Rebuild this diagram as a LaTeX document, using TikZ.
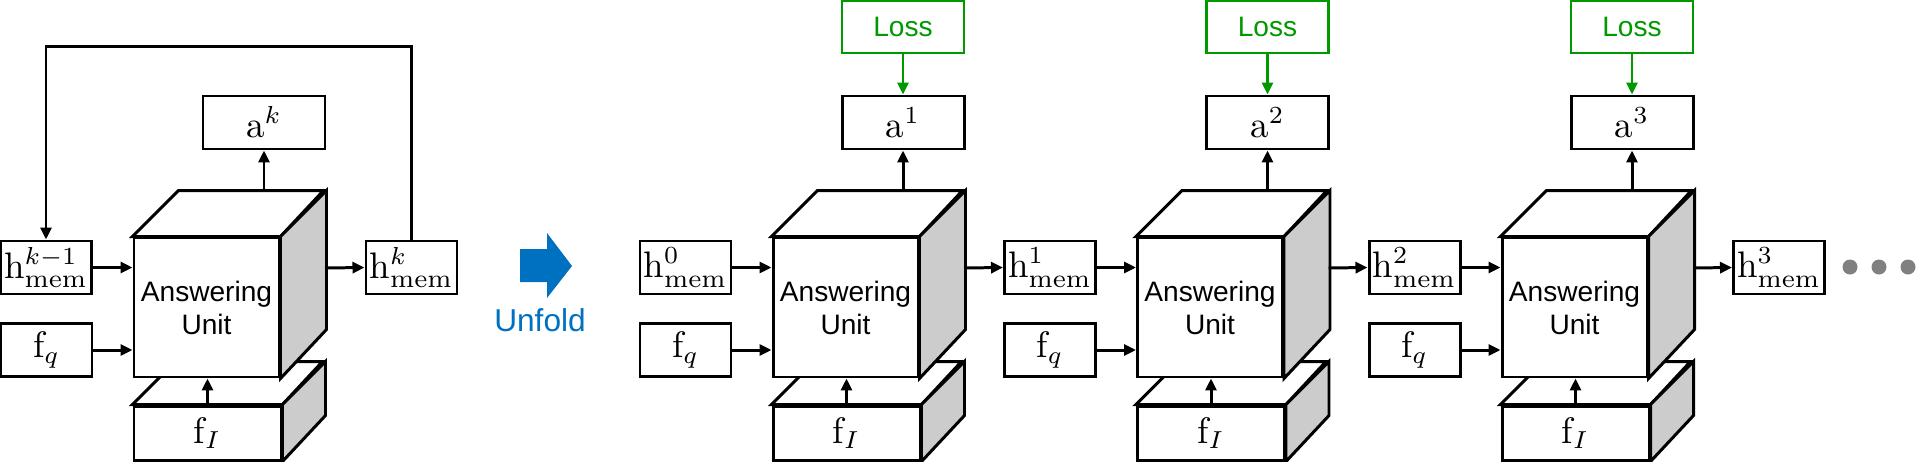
\documentclass[tikz,border=0pt]{standalone}
\usepackage{fontspec}
\setsansfont{Liberation Sans}
\usetikzlibrary{arrows.meta}

\definecolor{lossgreen}{RGB}{0,153,0}
\definecolor{unfoldblue}{RGB}{0,112,192}
\definecolor{sidegray}{RGB}{204,204,204}
\definecolor{dotgray}{RGB}{128,128,128}

\tikzset{
  facebox/.style={draw,line width=0.85pt,fill=white,inner sep=0pt},
  membox/.style={facebox,minimum width=9.1mm,minimum height=5.3mm,font=\fontsize{10.5}{12}\selectfont},
  lossbox/.style={draw=lossgreen,line width=0.8pt,text=lossgreen,minimum width=12.2mm,minimum height=5.2mm,inner sep=0pt,font=\sffamily\fontsize{8}{9.6}\selectfont},
  flow/.style={line width=0.85pt,->},
  lossflow/.style={line width=0.8pt,->,lossgreen},
  dot/.style={circle,fill=dotgray,minimum size=1.5mm,inner sep=0pt}
}

\begin{document}
\begin{tikzpicture}[x=0.1mm,y=-0.1mm,>={Triangle[length=1.2mm,width=1.1mm]}]
  \useasboundingbox (0,0) rectangle (1917,461);
  % memory states
  \node[membox] (mem-k0) at (46,267.5) {$\mathrm{h}^{k-1}_{\mathrm{mem}}$};
  \node[membox] (mem-k1) at (411.5,267.5) {$\mathrm{h}^{k}_{\mathrm{mem}}$};
  \foreach \n/\xpos in {0/685.5,1/1050,2/1414.5,3/1779}
    \node[membox] (mem-\n) at (\xpos,267.5) {$\mathrm{h}^{\n}_{\mathrm{mem}}$};

  \foreach \n/\X/\idx/\memin/\memout in {%
      0/134/k/mem-k0/mem-k1,
      1/773/1/mem-0/mem-1,
      2/1137.5/2/mem-1/mem-2,
      3/1502/3/mem-2/mem-3%
  }{%
    % image feature slab
    \node[facebox,minimum width=14.7mm,minimum height=5.4mm,font=\fontsize{10.5}{12}\selectfont] (slab-\n) at (\X+73.5,433) {$\mathrm{f}_I$};
    \draw[facebox] (slab-\n.north west) -- ++(43,-43) -- ++(147,0) -- (slab-\n.north east) -- cycle;
    \draw[facebox,fill=sidegray] (slab-\n.north east) -- ++(43,-43) -- ++(0,54) -- (slab-\n.south east) -- cycle;
    % answering unit
    \node[facebox,minimum width=14.5mm,minimum height=13.9mm,align=center,font=\sffamily\fontsize{8}{9.4}\selectfont] (cube-\n) at (\X+72.5,307.5) {Answering\\Unit};
    \draw[facebox] (cube-\n.north west) -- ++(46,-46) -- ++(145,0) -- (cube-\n.north east) -- cycle;
    \draw[facebox,fill=sidegray] (cube-\n.north east) -- ++(46,-46) -- ++(0,139) -- (cube-\n.south east) -- cycle;
    \coordinate (cubetop-\n) at (\X+130,192);
    \coordinate (cubeside-\n) at (\X+191,268);
    \node[membox] (fq-\n) at (\X-87.5,350) {$\mathrm{f}_q$};
    \node[membox,minimum width=12.2mm] (ans-\n) at (\X+130,122.5) {$\mathrm{a}^{\idx}$};
    \draw[flow] (\memin) -- (cube-\n.west |- \memin.east);
    \draw[flow] (fq-\n) -- (cube-\n.west |- fq-\n.east);
    \draw[flow] (slab-\n.north) -- (slab-\n.north |- cube-\n.south);
    \draw[flow] (cubetop-\n) -- (ans-\n);
    \draw[flow] (cubeside-\n) -- (\memout.west);
    \ifnum\n>0
      \node[lossbox] (loss-\n) at (\X+130,27) {Loss};
      \draw[lossflow] (loss-\n) -- (ans-\n);
    \fi
  }
  % recurrence
  \draw[flow] (mem-k1.north) -- ++(0,-193) -| (mem-k0.north);

  % unfold arrow
  \fill[unfoldblue] (520,249) -- (547,249) -- (547,233) -- (572,266) -- (547,298) -- (547,282) -- (520,282) -- cycle;
  \node[text=unfoldblue,font=\sffamily\fontsize{9}{11}\selectfont] (unfold) at (540,320) {Unfold};

  \foreach \i/\xpos in {1/1850,2/1879,3/1908}
    \node[dot] (dot-\i) at (\xpos,267) {};
\end{tikzpicture}
\end{document}
